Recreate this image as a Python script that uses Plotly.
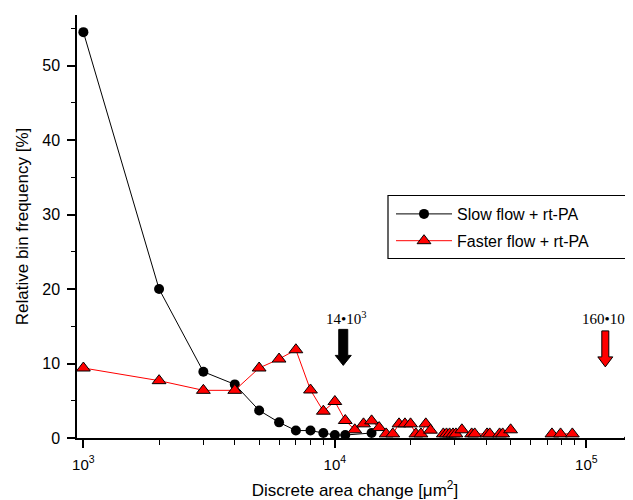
import math
import plotly.graph_objects as go

# ---------------- data ----------------
slow_x = [1000, 2000, 3000, 4000, 5000, 6000, 7000, 8000, 9000, 10000, 11000, 14000]
slow_y = [54.5, 20.0, 8.9, 7.2, 3.7, 2.1, 1.0, 1.0, 0.67, 0.4, 0.4, 0.67]

fast_x = [1000, 2000, 3000, 4000, 5000, 6000, 7000, 8000, 9000, 10000,
          11000, 12000, 13000, 14000, 15000, 16000, 17000, 18000, 19000, 20000,
          21000, 22000, 23000, 24000, None,
          27000, 27800, 28600, 29500, 30300, 32000, 35000, 36000, 40300, 41300,
          45200, 46500, 50000, None,
          73000, 79000, 88000, None,
          150000]
fast_y = [9.4, 7.7, 6.4, 6.4, 9.4, 10.6, 11.85, 6.45, 3.6, 4.9,
          2.35, 1.1, 1.9, 2.3, 1.4, 0.55, 0.55, 1.9, 1.9, 1.9,
          0.55, 0.55, 1.9, 1.05, None,
          0.55, 0.55, 0.55, 0.55, 0.55, 1.1, 0.55, 0.55, 0.55, 0.55,
          0.55, 0.55, 1.1, None,
          0.55, 0.55, 0.55, None,
          0.3]

series_names = ["Slow flow + rt-PA", "Faster flow + rt-PA"]

x_major = [1e3, 1e4, 1e5]
x_major_text = ["10<sup>3</sup>", "10<sup>4</sup>", "10<sup>5</sup>"]
x_minor = [m * d for d in (1e3, 1e4, 1e5) for m in range(2, 10)]
y_major = [0, 10, 20, 30, 40, 50]
y_minor = [5, 15, 25, 35, 45, 55]

arrow_x = [10800, 119000]
arrow_tip_y = [9.75, 9.55]
arrow_label = ["14•10<sup>3</sup>", "160•10<sup>3</sup>"]
arrow_label_y = 16.1
arrow_fill = ["black", "red"]

# ---------------- figure ----------------
# the page body adds an 8px offset; the figure is sized to compensate
fig = go.Figure()

fig.add_trace(go.Scatter(
    x=slow_x, y=slow_y, name=series_names[0], mode="lines+markers",
    line=dict(color="black", width=1),
    marker=dict(symbol="circle", size=10, color="black"),
    legendgroup="a", cliponaxis=False,
))
fig.add_trace(go.Scatter(
    x=fast_x, y=fast_y, name=series_names[1], mode="lines+markers",
    connectgaps=False,
    line=dict(color="red", width=1),
    marker=dict(symbol="triangle-up", size=12, color="red",
                line=dict(color="black", width=1)),
    legendgroup="b", cliponaxis=False,
))

shapes = []
paths = [
    "M 0,0 L -8,10 L -4.5,10 L -4.5,36 L 4.5,36 L 4.5,10 L 8,10 Z",
    "M 0,0 L -7.5,10 L -3.5,10 L -3.5,36 L 3.5,36 L 3.5,10 L 7.5,10 Z",
]
for ax_, ty, fc, p in zip(arrow_x, arrow_tip_y, arrow_fill, paths):
    shapes.append(dict(
        type="path", xref="x", yref="y", xsizemode="pixel", ysizemode="pixel",
        xanchor=ax_, yanchor=ty, path=p,
        fillcolor=fc, line=dict(color="black", width=1), layer="above",
    ))
# legend frame (plot area: x 77..633, y 15..438 in window pixels)
shapes.append(dict(type="rect", xref="paper", yref="paper",
                   x0=(388 - 77) / 556, x1=(631 - 77) / 556,
                   y0=(438 - 258.5) / 423, y1=(438 - 195.5) / 423,
                   line=dict(color="black", width=1.2), fillcolor="rgba(0,0,0,0)"))

annotations = []
for ax_, lab, xs in zip(arrow_x, arrow_label, [3, 1]):
    annotations.append(dict(
        x=math.log10(ax_), y=arrow_label_y, xref="x", yref="y",
        text=lab, showarrow=False, xshift=xs,
        font=dict(family="Liberation Serif, Times New Roman, serif", size=15, color="black"),
        xanchor="center", yanchor="middle",
    ))

fig.update_layout(
    width=625, height=492,
    margin=dict(l=69, r=0, t=7, b=62, autoexpand=False),
    paper_bgcolor="white", plot_bgcolor="white",
    font=dict(family="Liberation Sans, Arial, Helvetica, sans-serif", size=15, color="black"),
    showlegend=True,
    legend=dict(x=(391 - 77) / 556, y=(438 - 197) / 423, xanchor="left", yanchor="top",
                bgcolor="rgba(0,0,0,0)", borderwidth=0,
                font=dict(size=16), itemwidth=56, tracegroupgap=3,
                traceorder="grouped"),
    shapes=shapes,
    annotations=annotations,
)

fig.update_xaxes(
    type="log", range=[2.9746, 5.1857], automargin=False,
    showline=True, linecolor="black", linewidth=1.5, mirror=False,
    showgrid=False, zeroline=False,
    tickmode="array", tickvals=x_major, ticktext=x_major_text,
    ticks="outside", ticklen=8, tickwidth=1.5, tickcolor="black",
    ticklabelstandoff=4,
    minor=dict(tickmode="array", tickvals=x_minor, ticks="outside", ticklen=5,
               tickwidth=1.2, tickcolor="black", showgrid=False),
    tickfont=dict(size=15),
    title=dict(text="Discrete area change [μm<sup>2</sup>]", font=dict(size=17), standoff=14),
)
fig.update_yaxes(
    range=[0, 56.8], automargin=False,
    showline=True, linecolor="black", linewidth=1.5, mirror=False,
    showgrid=False, zeroline=False,
    tickmode="array", tickvals=y_major,
    ticks="outside", ticklen=8, tickwidth=1.5, tickcolor="black",
    ticklabelstandoff=4,
    minor=dict(tickmode="array", tickvals=y_minor, ticks="outside", ticklen=4,
               tickwidth=1.2, tickcolor="black", showgrid=False),
    tickfont=dict(size=16),
    title=dict(text="Relative bin frequency [%]", font=dict(size=17), standoff=9),
)

fig.write_html("out.html")
